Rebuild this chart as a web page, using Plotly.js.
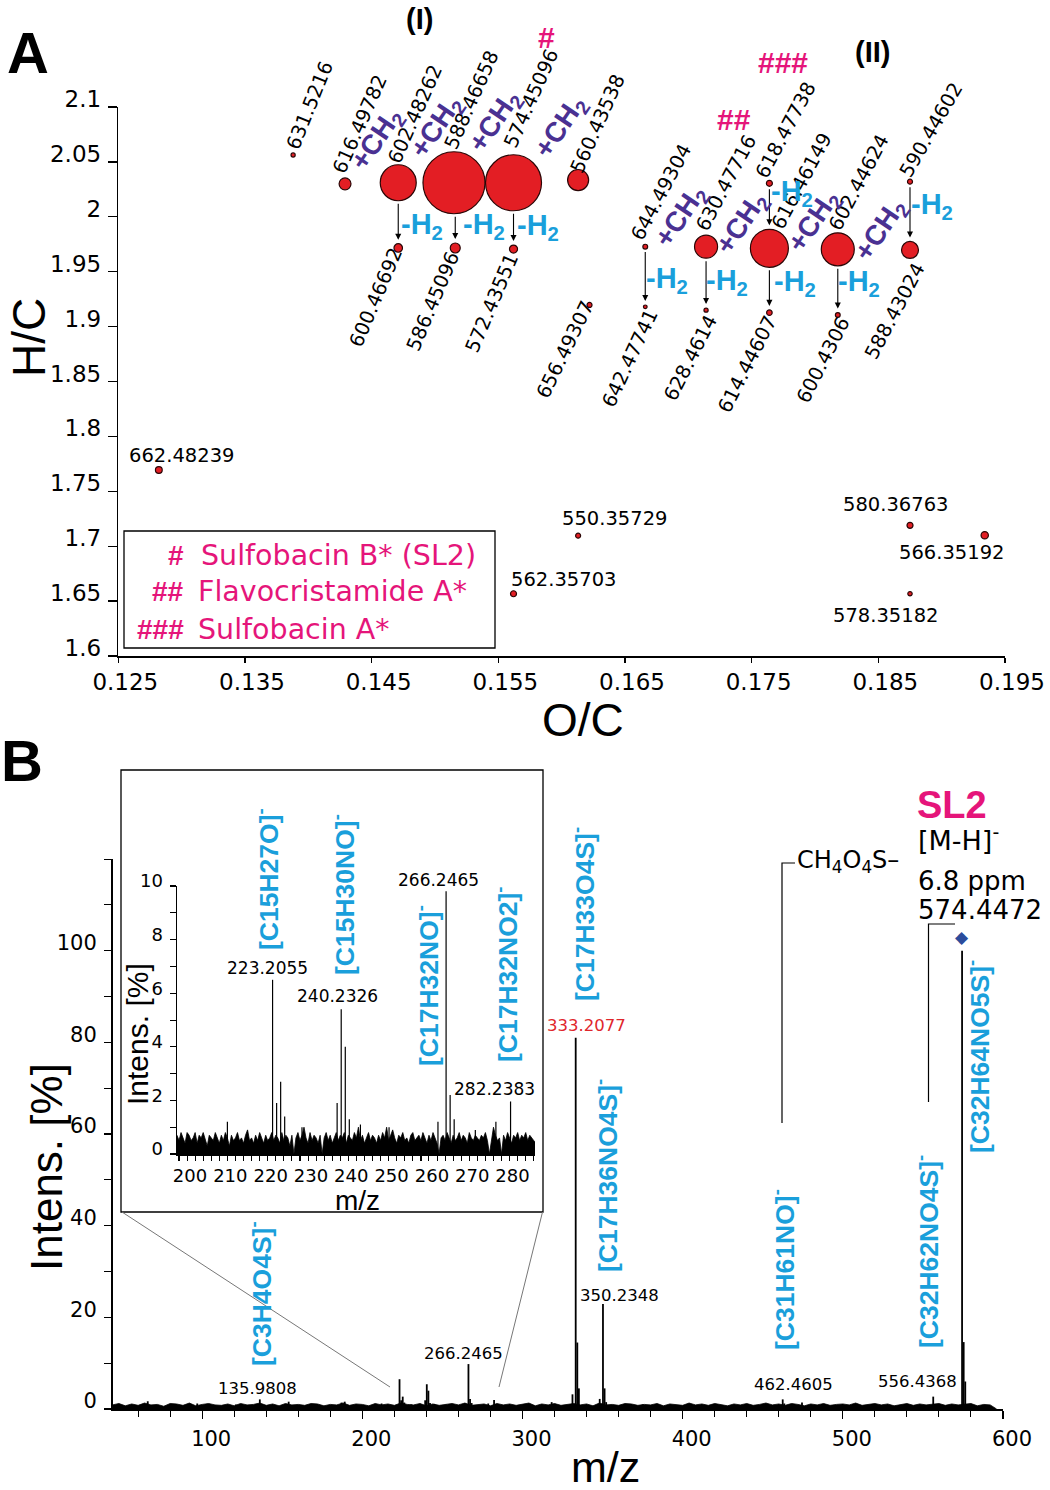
<!DOCTYPE html>
<html><head><meta charset="utf-8">
<script src="https://cdn.plot.ly/plotly-3.0.1.min.js"></script>
<style>html,body{margin:0;padding:0;background:#fff}#chart{width:1050px;height:1490px}</style>
</head><body><div id="chart"></div>
<script>
// ================= DATA =================
// Panel A: van Krevelen-type plot (O/C vs H/C), labelled by m/z
const ionMz = ['631.5216','616.49782','602.48262','588.46658','574.45096','560.43538',
  '600.46692','586.45096','572.43551','656.49307',
  '644.49304','630.47716','616.46149','602.44624','588.43024','590.44602','618.47738',
  '642.47741','628.4614','614.44607','600.4306',
  '662.48239','550.35729','562.35703','580.36763','566.35192','578.35182'];
const ocRatio = [0.1388,0.1429,0.1471,0.1515,0.1562,0.1613,
  0.1471,0.1516,0.1562,0.1622,
  0.1666,0.1714,0.1764,0.1818,0.1875,0.1875,0.1764,
  0.1666,0.1714,0.1764,0.1818,
  0.1282,0.1613,0.1562,0.1875,0.1934,0.1875];
const hcRatio = [2.0563,2.030,2.031,2.031,2.031,2.0335,
  1.9716,1.9716,1.9706,1.9197,
  1.9728,1.9728,1.9713,1.9704,1.9698,2.032,2.0305,
  1.918,1.915,1.9127,1.9106,
  1.7694,1.7096,1.6567,1.719,1.71,1.6567];
const relAbundance = [0.45,3.7,33.7,100,81.6,11.5,
  1.9,2.6,1.7,0.65,
  0.6,13.8,37.6,28.3,7.5,0.65,0.94,
  0.35,0.45,0.8,0.6,
  1.2,0.65,0.94,0.94,1.4,0.5];
const ocTicks = [0.125,0.135,0.145,0.155,0.165,0.175,0.185,0.195];
const ocTickText = ['0.125','0.135','0.145','0.155','0.165','0.175','0.185','0.195'];
const hcTicks = [1.6,1.65,1.7,1.75,1.8,1.85,1.9,1.95,2,2.05,2.1];
const hcTickText = ['1.6','1.65','1.7','1.75','1.8','1.85','1.9','1.95','2','2.05','2.1'];
// transformations: [from index, to index]
const h2Loss = [[2,6],[3,7],[4,8],[10,17],[11,18],[12,19],[13,20],[16,12],[15,14]];
const legendMarks = ['#','##','###'];
const legendNames = ['Sulfobacin B* (SL2)','Flavocristamide A*','Sulfobacin A*'];

// Panel B: MS/MS spectrum of m/z 574.4472
const peakMz = [66.0,96.9,121.0,135.9808,154.0,187.0,189.0,212.0,
  223.2055,224.21,225.21,226.21,230.5,239.22,240.2326,241.24,242.24,245.0,252.1,
  264.23,266.2465,267.25,268.25,273.5,278.6,282.2383,
  318.2,331.2,333.2077,334.21,335.2,348.2,350.2348,351.24,352.23,375.0,
  462.4605,463.46,474.5,556.4368,557.44,574.4472,575.45,576.44];
const peakInt = [1.7,1.2,1.0,2.1,1.6,1.4,1.6,1.2,
  6.5,1.9,2.7,1.4,1.0,1.9,5.4,4.0,1.3,1.1,1.0,
  1.2,9.8,2.2,1.3,0.9,1.2,1.96,
  1.5,3.2,81,14.5,4.5,2.2,22.9,4.5,1.5,1.0,
  2.1,1.2,1.4,2.7,1.0,100,14.6,6.0];
// baseline noise level, full spectrum (every 4 m/z from 44)
const mainNoiseStart = 44, mainNoiseStep = 4;
const mainNoise = [0.9,1.2,0.7,1.1,0.8,1.3,0.9,1.0,0.6,1.2,
  1.1,0.8,1.3,0.7,1.0,1.2,0.9,0.8,1.1,0.7,
  1.2,0.9,1.0,1.3,0.8,1.1,0.7,1.2,0.9,1.0,
  0.8,1.2,1.1,0.7,1.0,0.9,1.3,0.8,1.1,1.0,
  0.7,1.2,0.9,1.1,0.8,1.3,1.0,0.9,1.2,0.7,
  1.1,0.8,1.0,1.2,0.9,1.3,0.8,1.0,1.1,0.7,
  1.2,0.9,1.1,0.8,1.0,1.3,0.7,1.1,0.9,1.2,
  0.8,1.0,1.2,0.9,1.1,0.7,1.3,0.9,1.0,0.8,
  1.2,1.1,0.8,1.0,0.9,1.2,0.7,1.1,1.0,0.8,
  1.3,0.9,1.1,0.8,1.2,1.0,0.7,1.1,0.9,1.2,
  0.8,1.0,1.3,0.9,1.1,0.8,1.2,1.0,0.7,1.1,
  0.9,1.2,0.8,1.0,1.1,0.9,1.3,0.8,1.0,1.2,
  0.9,1.1,0.7,1.0,1.2,0.8,1.1,0.9,1.0,1.2,
  0.8,1.1,0.9,1.0,1.2,0.7,1.0,0.9,0.0];
// baseline noise level, zoomed region (every 0.5 m/z from 199.5)
const insetNoiseStart = 199.5, insetNoiseStep = 0.5;
const insetNoise = [0.7,0.5,0.8,0.6,0.4,0.8,0.7,0.5,0.6,0.8,
  0.4,0.7,0.6,0.8,0.5,0.3,0.7,0.6,0.5,0.8,
  0.6,0.4,0.7,0.5,0.8,0.6,0.3,0.7,0.5,0.6,
  0.8,0.5,0.6,0.4,0.7,0.9,0.5,0.6,0.4,0.7,
  0.5,0.8,0.6,0.4,0.7,0.5,0.6,0.8,0.5,0.7,
  0.6,0.4,0.8,0.5,0.7,0.6,0.3,0.7,0.0,0.6,
  0.8,0.5,0.7,1.0,0.6,0.4,0.8,0.5,0.7,0.6,
  0.4,0.7,0.0,0.6,0.8,0.5,0.7,0.4,0.6,0.8,
  0.5,0.7,0.6,0.8,0.4,0.7,0.6,0.5,0.8,0.6,
  1.0,0.5,0.7,0.4,0.6,0.8,0.5,0.7,0.6,0.4,
  0.7,0.5,0.8,0.6,1.0,0.5,0.7,0.9,0.6,0.4,
  0.7,0.6,0.8,0.5,0.6,0.4,0.7,0.8,0.5,0.6,
  0.7,0.5,0.8,0.6,0.4,0.7,0.5,0.8,0.6,0.4,
  0.0,0.6,0.7,0.5,0.8,0.6,0.4,0.7,0.5,0.6,
  0.8,0.5,0.7,0.6,0.4,0.8,0.6,0.5,0.7,0.6,
  0.5,0.7,0.6,0.8,0.5,0.0,0.6,1.0,0.7,0.5,
  0.6,0.0,0.7,0.5,0.8,0.6,0.4,0.7,0.6,0.8,
  0.5,0.7,0.6,0.8,0.5,0.7,0.6,0.5,0.4];
const mainLabelled = ['135.9808','266.2465','350.2348','462.4605','556.4368'];
const insetLabelled = ['223.2055','240.2326','266.2465','282.2383'];
const baseFragment = '333.2077';
const precursorMz = 574.4472;
const mzTicksMain = [100,200,300,400,500,600];
const intTicksMain = [0,20,40,60,80,100];
const mzTicksInset = [200,210,220,230,240,250,260,270,280];
const intTicksInset = [0,2,4,6,8,10];
const fragmentFormulas = ['[C15H27O]','[C15H30NO]','[C17H32NO]','[C17H32NO2]','[C17H33O4S]',
  '[C17H36NO4S]','[C3H4O4S]','[C31H61NO]','[C32H62NO4S]','[C32H64NO5S]'];

// ================= STYLE / LAYOUT =================
const W = 1050, H = 1490;
const px = v => v / W;
const py = v => 1 - v / H;
const FA = '"Liberation Sans", Arial, sans-serif';
const FD = '"DejaVu Sans", sans-serif';
const RED = '#e31e24', CYAN = '#1a9fdb', PURPLE = '#4a3192', MAG = '#e5157a';
const SIZEREF = 0.026;   // diameter(px) = sqrt(abundance / SIZEREF)
const HC_PX = (656 - 107) / 0.5;

// label placement for panel A ions: [dx, dy (px, down positive), angle]
const ionLabelPlace = [[17,-49,-68],[15,-59,-66],[17,-68,-66],[18,-83,-66],[18,-84,-66],[19,-56,-66],
  [-22,50,-67],[-22,54,-67],[-22,54,-67],[-24,45,-64],
  [16,-54,-62],[20,-63,-62],[32,-67,-62],[21,-67,-62],[-15,62,-62],[21,-51,-60],[16,-53,-62],
  [-15,52,-65],[-16,48,-63],[-22,52,-63],[-14,45,-63],
  [23,-15,0],[36,-17,0],[50,-14,0],[-15,-21,0],[-33,17,0],[-25,22,0]];

const traces = [];
traces.push({type:'scatter', mode:'markers', x: ocRatio, y: hcRatio, xaxis:'x', yaxis:'y',
  marker:{size: relAbundance, sizemode:'area', sizeref: 2*SIZEREF, color: RED, opacity:1,
    line:{color:'#2a0606', width:1.2}}, hoverinfo:'skip', showlegend:false});

function sticks(mz, inten){ const xs=[], ys=[]; mz.forEach((m,i)=>{xs.push(m,m,null); ys.push(0,inten[i],null);}); return {xs, ys}; }
const st = sticks(peakMz, peakInt);
const mainNoiseX = mainNoise.map((_,i)=> mainNoiseStart + i*mainNoiseStep);
const insetNoiseX = insetNoise.map((_,i)=> insetNoiseStart + i*insetNoiseStep);

traces.push({type:'scatter', mode:'lines', x: mainNoiseX, y: mainNoise, xaxis:'x2', yaxis:'y2',
  line:{color:'#000', width:0.8}, fill:'tozeroy', fillcolor:'#000', hoverinfo:'skip', showlegend:false});
traces.push({type:'scatter', mode:'lines', x: st.xs, y: st.ys, xaxis:'x2', yaxis:'y2',
  line:{color:'#000', width:1.8}, hoverinfo:'skip', showlegend:false});
traces.push({type:'scatter', mode:'lines', x: insetNoiseX, y: insetNoise, xaxis:'x3', yaxis:'y3',
  line:{color:'#000', width:0.8}, fill:'tozeroy', fillcolor:'#000', hoverinfo:'skip', showlegend:false});
traces.push({type:'scatter', mode:'lines', x: st.xs, y: st.ys, xaxis:'x3', yaxis:'y3',
  line:{color:'#000', width:1.2}, hoverinfo:'skip', showlegend:false});

const annotations = [];
function txt(text, x, y, font, extra){
  annotations.push(Object.assign({text, x: px(x), y: py(y), xref:'paper', yref:'paper', showarrow:false,
    xanchor:'center', yanchor:'middle', font}, extra||{}));
}
const f = (family,size,color,weight)=>({family,size,color:color||'#000',weight:weight||'normal'});

// ---- Panel A ----
txt('A', 28, 52, f(FA,58,'#000','bold'));
txt('(I)', 419, 19, f(FA,29,'#000','bold'));
txt('(II)', 872, 52, f(FA,29,'#000','bold'));
txt('#', 546, 38, f(FA,30,MAG,'bold'));
txt('##', 734, 120, f(FA,30,MAG,'bold'));
txt('###', 783, 62, f(FA,30,MAG,'bold'));
txt('H/C', 29, 338, f(FA,46), {textangle:-90});
txt('O/C', 583, 720, f(FA,46));

ionMz.forEach((lab,i)=>{
  const [dx,dy,ang] = ionLabelPlace[i];
  annotations.push({text: lab, x: ocRatio[i], y: hcRatio[i], xref:'x', yref:'y', showarrow:false,
    textangle: ang, xshift: dx, yshift: -dy, xanchor:'center', yanchor:'middle', font: f(FD,19.5)});
});
const diam = i => Math.sqrt(relAbundance[i] / SIZEREF);
h2Loss.forEach(([a,b])=>{
  const dist = (hcRatio[a]-hcRatio[b])*HC_PX - diam(a)/2 - 1.5;
  annotations.push({text:'', x: ocRatio[b], y: hcRatio[b], xref:'x', yref:'y', showarrow:true,
    axref:'pixel', ayref:'pixel', ax:0, ay:-dist, arrowhead:2, arrowsize:1.1, arrowwidth:1.1,
    arrowcolor:'#000', standoff: diam(b)/2 + 4});
});
[[378,140],[437,127],[496,122],[561,127],[682,217],[743,224],[815,222],[881,230]].forEach(([x,y])=>
  txt('+CH<sub>2</sub>', x, y, f(FA,28,PURPLE,'bold'), {textangle:-56}));
[[422,226],[484,226],[538,227],[667,280],[727,282],[795,283],[859,283],[792,193],[932,206]].forEach(([x,y])=>
  txt('-H<sub>2</sub>', x, y, f(FA,29,CYAN,'bold')));
legendMarks.forEach((m,i)=>{
  annotations.push({text:m, x:px(186), y:py(555+i*37), xref:'paper', yref:'paper', showarrow:false,
    xanchor:'right', yanchor:'middle', font:f(FA,28,MAG,'bold')});
  annotations.push({text:legendNames[i], x:px(i===0?199:196), y:py(555+i*37), xref:'paper', yref:'paper', showarrow:false,
    xanchor:'left', yanchor:'middle', font:f(FD,28.5,MAG)});
});

// ---- Panel B ----
txt('B', 22, 760, f(FA,58,'#000','bold'));
txt('Intens. [%]', 46, 1167, f(FA,44), {textangle:-90});
txt('m/z', 605, 1467, f(FA,43));
txt('Intens. [%]', 137, 1034, f(FA,30), {textangle:-90});
txt('m/z', 357, 1200, f(FA,28));
const intOf = mzStr => peakInt[peakMz.findIndex(m => Math.abs(m - parseFloat(mzStr)) < 1e-3)];
const mainShift = {'135.9808':[-2,11],'266.2465':[-5,11],'350.2348':[17,9],'462.4605':[11,15],'556.4368':[-16,15]};
mainLabelled.forEach(l=>{
  annotations.push({text:l, x: parseFloat(l), y: intOf(l), xref:'x2', yref:'y2', showarrow:false,
    xshift: mainShift[l][0], yshift: mainShift[l][1], yanchor:'middle', font:f(FD,16.5)});
});
annotations.push({text: baseFragment, x: parseFloat(baseFragment), y: intOf(baseFragment), xref:'x2', yref:'y2',
  showarrow:false, xshift:11, yshift:12, yanchor:'middle', font:f(FD,16.5,'#e0262b')});
const insetShift = {'223.2055':[-5,12],'240.2326':[-4,13],'266.2465':[-8,11],'282.2383':[-16,12]};
insetLabelled.forEach(l=>{
  annotations.push({text:l, x: parseFloat(l), y: intOf(l), xref:'x3', yref:'y3', showarrow:false,
    xshift: insetShift[l][0], yshift: insetShift[l][1], yanchor:'middle', font:f(FD,17)});
});
const formulaPos = [[267,879],[343,895],[427,986],[506,974],[583,914],[606,1176],[260,1294],[783,1270],[927,1252],[978,1057]];
fragmentFormulas.forEach((t,i)=> txt(t+'<sup>-</sup>', formulaPos[i][0], formulaPos[i][1], f(FA,26.5,CYAN,'bold'), {textangle:-90}));
txt('SL2', 952, 805, f(FA,38,MAG,'bold'));
annotations.push({text:'[M-H]<sup>-</sup>', x:px(916), y:py(838), xref:'paper', yref:'paper', showarrow:false, xanchor:'left', yanchor:'middle', font:f(FD,27)});
annotations.push({text:'6.8 ppm', x:px(916), y:py(881), xref:'paper', yref:'paper', showarrow:false, xanchor:'left', yanchor:'middle', font:f(FD,26)});
annotations.push({text:'574.4472', x:px(916), y:py(910), xref:'paper', yref:'paper', showarrow:false, xanchor:'left', yanchor:'middle', font:f(FD,26)});
annotations.push({text:'CH<sub>4</sub>O<sub>4</sub>S–', x:px(795), y:py(861), xref:'paper', yref:'paper', showarrow:false, xanchor:'left', yanchor:'middle', font:f(FD,24)});
annotations.push({text:'◆', x: precursorMz, y: intOf('574.4472'), xref:'x2', yref:'y2', showarrow:false, yshift:14, yanchor:'middle', font:{family:FD, size:17, color:'#2b4c9c'}});

const shapes = [
  {type:'rect', xref:'paper', yref:'paper', x0:px(124), x1:px(495), y0:py(531), y1:py(648), line:{color:'#000', width:1.3}},
  {type:'rect', xref:'paper', yref:'paper', x0:px(121), x1:px(543), y0:py(770), y1:py(1212), line:{color:'#000', width:1.3}},
  {type:'line', xref:'paper', yref:'paper', x0:px(122), y0:py(1212), x1:px(390), y1:py(1387), line:{color:'#777', width:1}},
  {type:'line', xref:'paper', yref:'paper', x0:px(542.5), y0:py(1212), x1:px(499), y1:py(1387), line:{color:'#777', width:1}},
  {type:'path', xref:'paper', yref:'paper', path:`M ${px(795)} ${py(863)} L ${px(782)} ${py(863)} L ${px(782)} ${py(1123)}`, line:{color:'#000', width:1.2}},
  {type:'path', xref:'paper', yref:'paper', path:`M ${px(955)} ${py(924)} L ${px(928.5)} ${py(924)} L ${px(928.5)} ${py(1102)}`, line:{color:'#000', width:1.2}}
];

const axBase = {showgrid:false, zeroline:false, showline:true, linecolor:'#000', linewidth:1.5,
  ticks:'outside', tickcolor:'#000', tickwidth:1.2};
const layout = {
  width: W, height: H, margin:{l:0,r:0,t:0,b:0}, paper_bgcolor:'#fff', plot_bgcolor:'rgba(0,0,0,0)',
  showlegend:false, font:{family:FA, color:'#000'},
  xaxis: Object.assign({}, axBase, {domain:[px(118.3), px(1005)], anchor:'y', range:[0.125,0.195],
    tickmode:'array', tickvals: ocTicks, ticktext: ocTickText, ticklen:5, tickfont:{family:FD, size:23}, ticklabelshift:7, ticklabelstandoff:0}),
  yaxis: Object.assign({}, axBase, {domain:[py(656), py(107)], anchor:'x', range:[1.6,2.1],
    tickmode:'array', tickvals: hcTicks, ticktext: hcTickText, ticklen:9, tickfont:{family:FD, size:23}, ticklabelshift:-8, ticklabelstandoff:2}),
  xaxis2: Object.assign({}, axBase, {domain:[px(112.5), px(1003)], anchor:'y2', range:[44,600],
    tickmode:'array', tickvals: mzTicksMain, ticklen:8, tickfont:{family:FD, size:21}, ticklabelshift:9, ticklabelstandoff:2,
    minor:{dtick:20, tick0:0, ticks:'outside', ticklen:6, tickcolor:'#000', tickwidth:1}}),
  yaxis2: Object.assign({}, axBase, {domain:[py(1409), py(859)], anchor:'x2', range:[0,120],
    tickmode:'array', tickvals: intTicksMain, ticklen:7, tickfont:{family:FD, size:21}, ticklabelshift:-8, ticklabelstandoff:3,
    minor:{dtick:10, tick0:0, ticks:'outside', ticklen:7, tickcolor:'#000', tickwidth:1}}),
  xaxis3: Object.assign({}, axBase, {domain:[px(177), px(535)], anchor:'y3', range:[199.5,288.3],
    tickmode:'array', tickvals: mzTicksInset, ticklen:5, tickfont:{family:FD, size:18}, ticklabelshift:11, ticklabelstandoff:0,
    minor:{dtick:2, tick0:0, ticks:'outside', ticklen:5, tickcolor:'#000', tickwidth:1}}),
  yaxis3: Object.assign({}, axBase, {domain:[py(1154), py(886)], anchor:'x3', range:[0,10],
    tickmode:'array', tickvals: intTicksInset, ticklen:6, tickfont:{family:FD, size:18}, ticklabelshift:-5, ticklabelstandoff:3,
    minor:{dtick:1, tick0:0, ticks:'outside', ticklen:6, tickcolor:'#000', tickwidth:1}}),
  annotations, shapes
};
Plotly.newPlot('chart', traces, layout, {staticPlot:true, displayModeBar:false});
</script></body></html>
